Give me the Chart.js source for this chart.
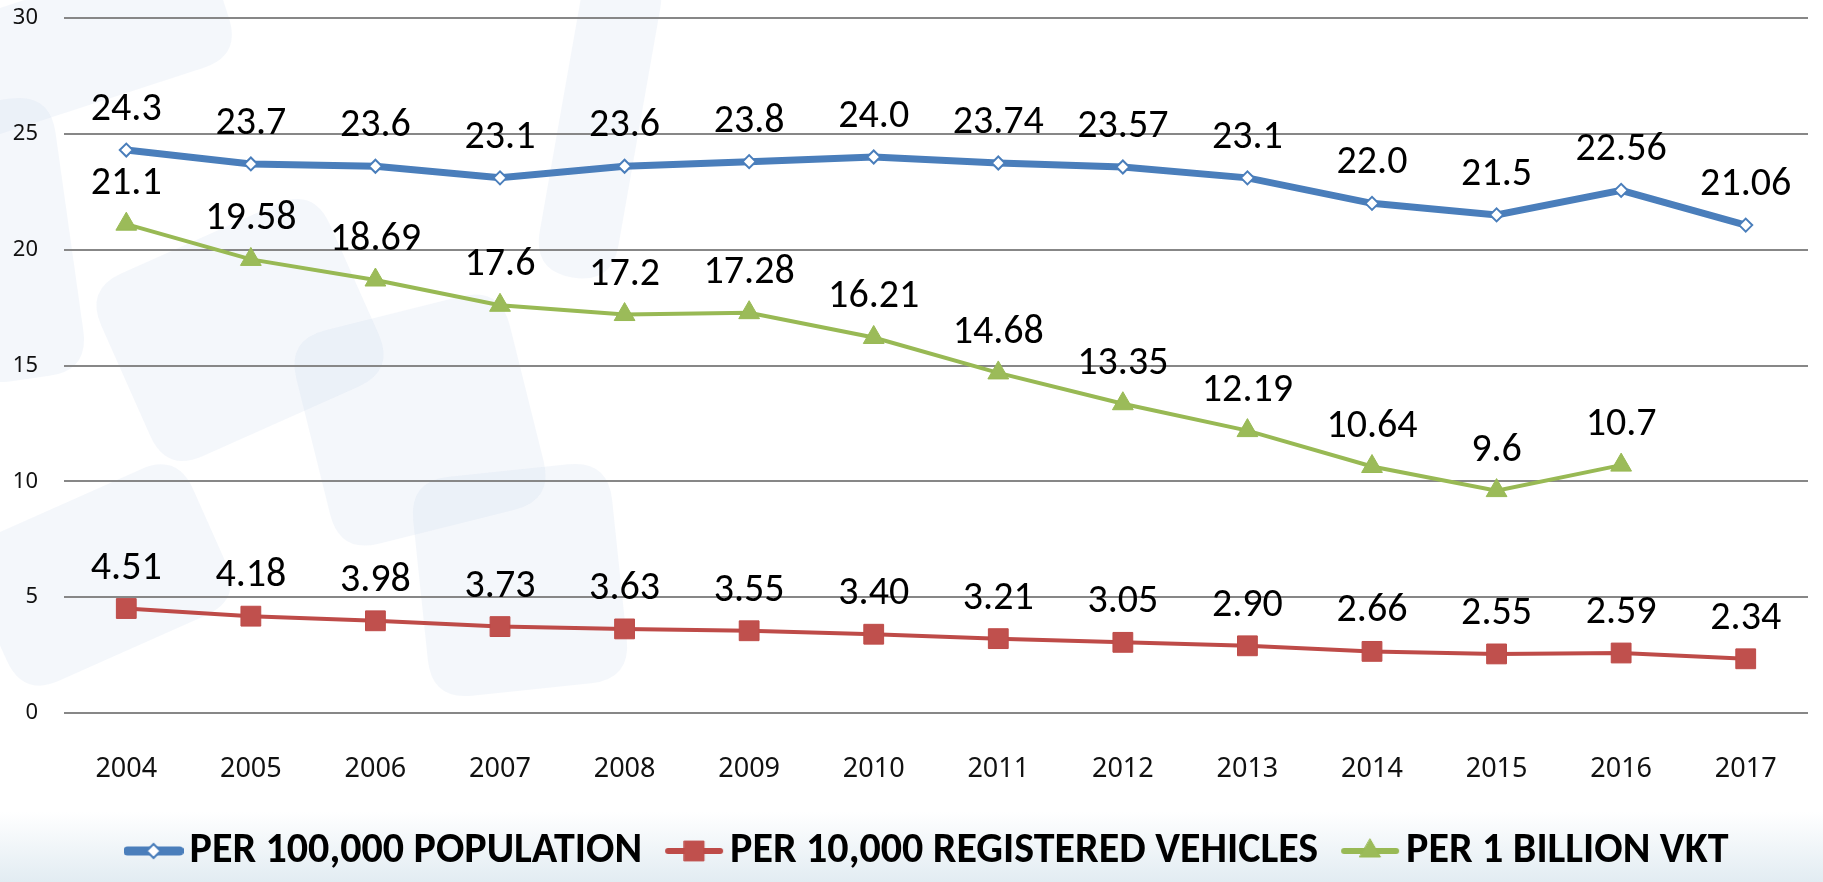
<!DOCTYPE html>
<html>
<head>
<meta charset="utf-8">
<script src="https://cdn.jsdelivr.net/npm/chart.js@4.4.1/dist/chart.umd.min.js"></script>
<style>
    html, body { margin: 0; padding: 0; background: #fff; }
    #moldura {
        position: relative;
        width: 1823px;
        height: 882px;
        background: linear-gradient(to bottom, #ffffff 0px, #ffffff 812px, #e2ecf2 882px);
    }
</style>
</head>
<body>
<div id="moldura"><canvas id="grafico" width="1823" height="882"></canvas></div>
<script>
// Dados do gráfico
const anos = ['2004', '2005', '2006', '2007', '2008', '2009', '2010', '2011', '2012', '2013', '2014', '2015', '2016', '2017'];

const porPopulacao = [24.3, 23.7, 23.6, 23.1, 23.6, 23.8, 24.0, 23.74, 23.57, 23.1, 22.0, 21.5, 22.56, 21.06];
const rotulosPopulacao = ['24.3', '23.7', '23.6', '23.1', '23.6', '23.8', '24.0', '23.74', '23.57', '23.1', '22.0', '21.5', '22.56', '21.06'];

const porVeiculos = [4.51, 4.18, 3.98, 3.73, 3.63, 3.55, 3.40, 3.21, 3.05, 2.90, 2.66, 2.55, 2.59, 2.34];
const rotulosVeiculos = ['4.51', '4.18', '3.98', '3.73', '3.63', '3.55', '3.40', '3.21', '3.05', '2.90', '2.66', '2.55', '2.59', '2.34'];

const porVkt = [21.1, 19.58, 18.69, 17.6, 17.2, 17.28, 16.21, 14.68, 13.35, 12.19, 10.64, 9.6, 10.7, null];
const rotulosVkt = ['21.1', '19.58', '18.69', '17.6', '17.2', '17.28', '16.21', '14.68', '13.35', '12.19', '10.64', '9.6', '10.7', null];

const nomesSeries = ['PER 100,000 POPULATION', 'PER 10,000 REGISTERED VEHICLES', 'PER 1 BILLION VKT'];
const ticksY = [0, 5, 10, 15, 20, 25, 30];

const AZUL = '#4a7ebb';
const VERMELHO = '#be4b48';
const VERDE = '#98b954';

const fonteEixo = "'Noto Sans', 'Open Sans', sans-serif";
const fonteRotulo = "Carlito, Lato, sans-serif";
const fonteLegenda = "Carlito, Lato, sans-serif";

// Deslocamento horizontal da legenda (no original ela fica um pouco à direita)
const deslocLegenda = 23;

// Marca d'água de fundo (formas arredondadas claras)
const formasFundo = [
    { cx: 80, cy: 45, w: 300, h: 120, ang: -18 },
    { cx: 10, cy: 240, w: 120, h: 280, ang: -8 },
    { cx: 240, cy: 330, w: 250, h: 200, ang: -24 },
    { cx: 420, cy: 420, w: 220, h: 220, ang: -14 },
    { cx: 100, cy: 575, w: 240, h: 160, ang: -24 },
    { cx: 520, cy: 580, w: 200, h: 220, ang: -6 },
    { cx: 600, cy: 120, w: 80, h: 320, ang: 10 }
];

function retanguloArredondado(g, x, y, w, h, r) {
    g.beginPath();
    g.moveTo(x + r, y);
    g.lineTo(x + w - r, y);
    g.quadraticCurveTo(x + w, y, x + w, y + r);
    g.lineTo(x + w, y + h - r);
    g.quadraticCurveTo(x + w, y + h, x + w - r, y + h);
    g.lineTo(x + r, y + h);
    g.quadraticCurveTo(x, y + h, x, y + h - r);
    g.lineTo(x, y + r);
    g.quadraticCurveTo(x, y, x + r, y);
    g.closePath();
}

const fundoPlugin = {
    id: 'fundo',
    afterLayout(chart) {
        // empurra a legenda para a direita
        if (chart.legend) {
            chart.legend.left += deslocLegenda;
            chart.legend.right += deslocLegenda;
        }
    },
    beforeDraw(chart) {
        const g = chart.ctx;
        g.save();
        g.fillStyle = 'rgba(190, 208, 230, 0.17)';
        formasFundo.forEach(f => {
            g.save();
            g.translate(f.cx, f.cy);
            g.rotate(f.ang * Math.PI / 180);
            retanguloArredondado(g, -f.w / 2, -f.h / 2, f.w, f.h, 40);
            g.fill();
            g.restore();
        });
        g.restore();
    }
};

// Rótulos de valor acima de cada ponto
const rotulosPlugin = {
    id: 'rotulos',
    afterDatasetsDraw(chart) {
        const g = chart.ctx;
        g.save();
        g.font = '40px ' + fonteRotulo;
        g.fillStyle = '#000';
        g.textAlign = 'center';
        g.textBaseline = 'alphabetic';
        chart.data.datasets.forEach((ds, i) => {
            const meta = chart.getDatasetMeta(i);
            meta.data.forEach((pt, j) => {
                const txt = ds.rotulos[j];
                if (txt == null || ds.data[j] == null) return;
                g.fillText(txt, pt.x, pt.y - 30);
            });
        });
        g.restore();
    }
};

// Ícone da legenda: linha com marcador no meio
function iconeLegenda(cor, estilo, raio, larguraLinha, preenchimento, larguraBorda) {
    const c = document.createElement('canvas');
    c.width = 60;
    c.height = 32;
    const g = c.getContext('2d');
    g.strokeStyle = cor;
    g.lineWidth = larguraLinha;
    g.lineCap = 'round';
    g.beginPath();
    g.moveTo(4, 16);
    g.lineTo(56, 16);
    g.stroke();
    g.fillStyle = preenchimento;
    g.strokeStyle = cor;
    g.lineWidth = larguraBorda;
    Chart.helpers.drawPoint(g, { pointStyle: estilo, radius: raio, borderWidth: larguraBorda, rotation: 0 }, 30, 16);
    return c;
}

const icones = [
    iconeLegenda(AZUL, 'rectRot', 7, 9, '#ffffff', 2),
    iconeLegenda(VERMELHO, 'rect', 14, 6, '#c0504d', 1),
    iconeLegenda(VERDE, 'triangle', 12, 6, '#9bbb59', 1)
];

const ctx = document.getElementById('grafico').getContext('2d');

new Chart(ctx, {
    type: 'line',
    data: {
        labels: anos,
        datasets: [{
            label: nomesSeries[0],
            data: porPopulacao,
            rotulos: rotulosPopulacao,
            borderColor: AZUL,
            borderWidth: 7,
            tension: 0,
            pointStyle: 'rectRot',
            pointRadius: 6.5,
            pointBackgroundColor: '#ffffff',
            pointBorderColor: AZUL,
            pointBorderWidth: 2
        }, {
            label: nomesSeries[1],
            data: porVeiculos,
            rotulos: rotulosVeiculos,
            borderColor: VERMELHO,
            borderWidth: 4,
            tension: 0,
            pointStyle: 'rect',
            pointRadius: 14,
            pointBackgroundColor: '#c0504d',
            pointBorderColor: VERMELHO,
            pointBorderWidth: 1
        }, {
            label: nomesSeries[2],
            data: porVkt,
            rotulos: rotulosVkt,
            borderColor: VERDE,
            borderWidth: 4,
            tension: 0,
            spanGaps: false,
            pointStyle: 'triangle',
            pointRadius: 12,
            pointBackgroundColor: '#9bbb59',
            pointBorderColor: VERDE,
            pointBorderWidth: 1
        }]
    },
    options: {
        responsive: false,
        animation: false,
        layout: {
            padding: { top: 18, right: 2, bottom: 0, left: 0 }
        },
        scales: {
            y: {
                min: 0,
                max: 30,
                afterFit(scale) {
                    scale.width = 64;
                    scale.paddingTop = 0;
                    scale.paddingBottom = 0;
                },
                afterBuildTicks(scale) { scale.ticks = ticksY.map(v => ({ value: v })); },
                border: { display: false },
                grid: {
                    color: '#878787',
                    lineWidth: 2,
                    drawTicks: false
                },
                ticks: {
                    padding: 26,
                    color: '#111',
                    font: { family: fonteEixo, size: 22 }
                }
            },
            x: {
                offset: true,
                afterFit(scale) {
                    scale.height = 80;
                    scale.paddingLeft = 0;
                    scale.paddingRight = 0;
                },
                border: { display: false },
                grid: { display: false, drawTicks: false, offset: true },
                ticks: {
                    padding: 40,
                    color: '#111',
                    maxRotation: 0,
                    autoSkip: false,
                    font: { family: fonteEixo, size: 27 }
                }
            }
        },
        plugins: {
            tooltip: { enabled: false },
            legend: {
                position: 'bottom',
                labels: {
                    usePointStyle: true,
                    pointStyleWidth: 30,
                    boxHeight: 30,
                    padding: 37,
                    color: '#000',
                    font: { family: fonteLegenda, size: 42, weight: 'bold' },
                    generateLabels(chart) {
                        return chart.data.datasets.map((ds, i) => ({
                            text: ds.label,
                            pointStyle: icones[i],
                            fillStyle: ds.borderColor,
                            strokeStyle: ds.borderColor,
                            lineWidth: 0,
                            hidden: false,
                            datasetIndex: i
                        }));
                    }
                }
            }
        }
    },
    plugins: [fundoPlugin, rotulosPlugin]
});
</script>
</body>
</html>
